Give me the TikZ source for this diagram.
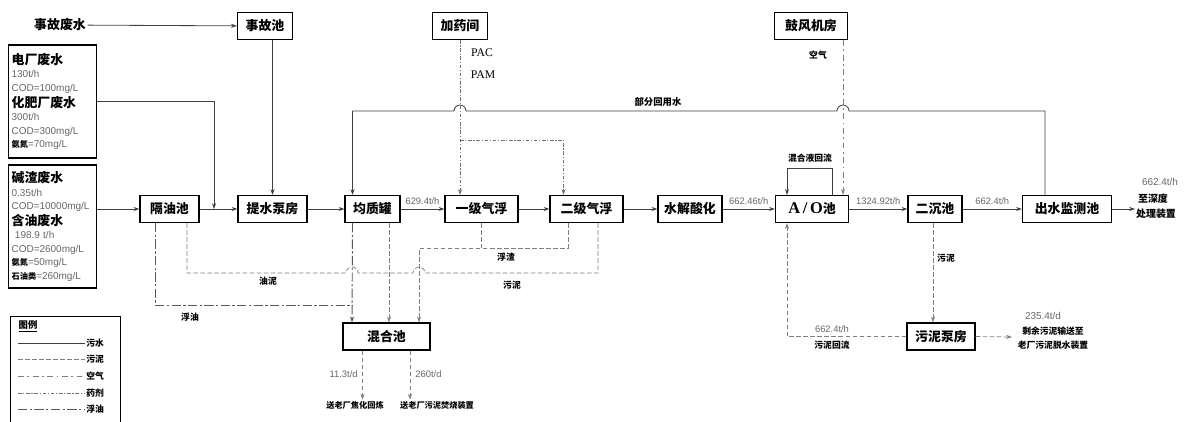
\documentclass[tikz,border=0pt]{standalone}
\usepackage{fontspec}
\setmainfont{Liberation Sans}
\newfontfamily\cjk{Noto Sans CJK SC}
\newfontfamily\serf{Liberation Serif}
\usetikzlibrary{arrows.meta,calc}
\newcommand\srcttl[1]{{\color{black}\cjk\bfseries\fontsize{11}{13}\selectfont #1}}
\newcommand\srcsub[1]{{\color{black}\cjk\bfseries\fontsize{7}{8}\selectfont #1}}

\begin{document}
\begin{tikzpicture}[x=0.03cm,y=-0.03cm,
  >={Stealth[length=5pt,width=3.5pt]},
  box/.style={draw,line width=1pt,fill=white,minimum height=0.81cm,inner sep=1pt,
    font=\cjk\bfseries\fontsize{11}{13}\selectfont},
  srcbox/.style={draw,line width=1pt,text width=2.45cm,inner sep=3pt,align=left,
    text=black!60,font=\fontsize{8.5}{11.5}\selectfont},
  tag/.style={font=\cjk\bfseries\fontsize{7.5}{9}\selectfont,inner sep=1pt},
  num/.style={font=\fontsize{8}{9}\selectfont,text=black!60,inner sep=1pt},
  water/.style={draw=black!75,line width=0.7pt},
  sludge/.style={draw=black!50,line width=0.6pt,dash pattern=on 4pt off 2pt},
  air/.style={draw=black!50,line width=0.6pt,dash pattern=on 5pt off 3pt on 1.5pt off 3pt},
  chem/.style={draw=black!55,line width=0.6pt,dash pattern=on 3pt off 1.5pt on 1pt off 1.5pt},
  oil/.style={draw=black!65,line width=0.8pt,dash pattern=on 8pt off 2pt on 2pt off 2pt}]
\useasboundingbox (0,0) rectangle (1188,421);

% sources
\node[box,draw=none,fill=none] (sgfs) at (60,25) {事故废水};
\node[box,minimum width=1.65cm] (sgc) at (265,26) {事故池};
\node[srcbox,minimum height=3.39cm] (src1) at (52.5,101.5) {%
  \srcttl{电厂废水}\\
  130t/h\\
  COD=100mg/L\\[2pt]
  \srcttl{化肥厂废水}\\
  300t/h\\
  COD=300mg/L\\
  \srcsub{氨氮}=70mg/L};
\node[srcbox,minimum height=3.69cm] (src2) at (52.5,226.5) {%
  \srcttl{碱渣废水}\\
  0.35t/h\\
  COD=10000mg/L\\[2pt]
  \srcttl{含油废水}\\
  \ 198.9 t/h\\
  COD=2600mg/L\\
  \srcsub{氨氮}=50mg/L\\
  \srcsub{石油类}=260mg/L};

% main line
\node[box,minimum width=1.77cm] (glc) at (169.5,209) {隔油池};
\node[box,minimum width=2.07cm] (tsbf) at (272.5,209) {提水泵房};
\node[box,minimum width=1.65cm] (jzg) at (372.5,209) {均质罐};
\node[box,minimum width=2.19cm] (yjqf) at (481.5,209) {一级气浮};
\node[box,minimum width=2.19cm] (ejqf) at (586.5,209) {二级气浮};
\node[box,minimum width=1.92cm] (sjsh) at (690,209) {水解酸化};
\node[box,minimum width=2.19cm] (ao) at (812,209) {{\serf\fontsize{14}{14}\selectfont A\,/\,O}池};
\node[box,minimum width=1.62cm] (ecc) at (935,209) {二沉池};
\node[box,minimum width=2.67cm] (csjc) at (1067,209) {出水监测池};

% upper stations
\node[box,minimum width=1.65cm] (jyj) at (460,26) {加药间};
\node[box,minimum width=2.19cm] (gfjf) at (811,26) {鼓风机房};

% lower stations
\node[box,minimum width=2.61cm] (hhc) at (386.5,336.5) {混合池};
\node[box,minimum width=2.04cm] (wnbf) at (941,336.5) {污泥泵房};

% ends
\coordinate (j1) at (214,209);
\coordinate (fin) at (1135,209);
\coordinate (ex) at (1012,337);

% water
\draw[water,->] (sgfs) -- (sgc);
\draw[water,->] (sgc.south -| tsbf) -- (tsbf);
\draw[water,->] (src1.east) -| (j1);
\draw[water,->] (src2.east |- glc) -- (glc);
\draw[water,->] (glc) -- (tsbf);
\draw[water,->] (tsbf) -- (jzg);
\draw[water,->] (jzg) -- (yjqf) node[num,midway,above=2pt] {629.4t/h};
\draw[water,->] (yjqf) -- (ejqf);
\draw[water,->] (ejqf) -- (sjsh);
\draw[water,->] (sjsh) -- (ao) node[num,midway,above=2pt] {662.46t/h};
\draw[water,->] (ao) -- (ecc) node[num,midway,above=2pt] {1324.92t/h};
\draw[water,->] (ecc) -- (csjc) node[num,midway,above=2pt] {662.4t/h};
\draw[water,->] (csjc) -- (fin);
\draw[water,->] ($(csjc.north)+(-22,0)$) |- (849,111) arc (0:-180:6)
  -- (466,111) arc (0:-180:6) -| ($(jzg.north)+(-20,0)$);
\node[tag,font=\cjk\bfseries\fontsize{8}{9}\selectfont] (hyl) at (658,102) {部分回用水};
\draw[water,->] ($(ao.north)+(20,0)$) -- ++(0,-27) -| ($(ao.north)+(-25,0)$);
\node[tag] (hlh) at (810,158) {混合液回流};

% chemicals and air
\coordinate (c1) at ($(ejqf.north)+(-23,0)$);
\draw[chem,->] (jyj.south) -- (jyj.south |- yjqf.north);
\draw[chem,->] (jyj.south |- 0,140) -| (c1);
\node[font=\serf\fontsize{10}{11}\selectfont] (pac) at (482,53) {PAC};
\node[font=\serf\fontsize{10}{11}\selectfont] (pam) at (483,75) {PAM};
\draw[air,->] ($(gfjf.south)+(32,0)$) -- ($(ao.north)+(31,0)$);
\node[tag] (kq) at (818,55) {空气};

% sludge and oil to mixing tank
\draw[oil] ($(glc.south)+(-14.5,0)$) |- (352,305);
\draw[oil,->] ($(jzg.south)+(-20,0)$) -- ($(hhc.north)+(-34.5,0)$);
\node[tag] (fy) at (190,317) {浮油};
\draw[sludge] ($(glc.south)+(17.5,0)$) |- (346,273) arc (180:360:6) -- (389,273);
\node[tag] (yn) at (268,281) {油泥};
\draw[sludge] ($(ejqf.south)+(11.5,0)$) |- (425,273) arc (0:-180:6) -- (389,273);
\draw[sludge,->] ($(jzg.south)+(16.5,0)$) -- ($(hhc.north)+(2.5,0)$);
\draw[sludge] (yjqf.south) -- (yjqf.south |- 0,248);
\draw[sludge,->] ($(ejqf.south)+(-18.5,0)$) |- (419,248) -- ($(hhc.north)+(32.5,0)$);
\node[tag] (fz) at (506,257) {浮渣};
\node[tag] (wn1) at (512,285) {污泥};

% mixing tank outputs
\node[tag,font=\cjk\bfseries\fontsize{7}{8}\selectfont] (out1) at (355,405) {送老厂焦化回炼};
\node[tag,font=\cjk\bfseries\fontsize{7}{8}\selectfont] (out2) at (437,405) {送老厂污泥焚烧装置};
\coordinate (h1) at ($(hhc.south)+(-24,0)$);
\coordinate (h2) at ($(hhc.south)+(23.5,0)$);
\draw[sludge,->] (h1) -- (h1 |- out1.north);
\draw[sludge,->] (h2) -- (h2 |- out2.north);
\node[num,anchor=east] (q1) at (359,374) {11.3t/d};
\node[num,anchor=west] (q2) at (414,374) {260t/d};

% secondary sludge
\coordinate (e1) at ($(ecc.south)+(-2,0)$);
\coordinate (a1) at ($(ao.south)+(-25,0)$);
\draw[sludge,->] (e1) -- (e1 |- wnbf.north);
\node[tag] (wn2) at (946,258) {污泥};
\draw[sludge,->] (wnbf.west) -| (a1);
\node[num] (q3) at (832,329) {662.4t/h};
\node[tag] (wnhl) at (832,345) {污泥回流};
\draw[sludge,->] (wnbf.east) -- (ex);
\node[num,font=\fontsize{8.5}{9}\selectfont] (q4) at (1043,316) {235.4t/d};
\node[tag] (sy1) at (1053,331) {剩余污泥输送至};
\node[tag] (sy2) at (1053,345) {老厂污泥脱水装置};

% outlet
\node[num,font=\fontsize{8.5}{9}\selectfont] (q5) at (1160,182) {662.4t/h};
\node[tag,font=\cjk\bfseries\fontsize{8.5}{10}\selectfont] (sd1) at (1153,199) {至深度};
\node[tag,font=\cjk\bfseries\fontsize{8.5}{10}\selectfont] (sd2) at (1156,214) {处理装置};

% legend
\draw[line width=0.8pt] (10,316) rectangle (120,426);
\node[tag,font=\cjk\bfseries\fontsize{8}{9}\selectfont] (lgt) at (28,326) {\underline{图例}};
\foreach \s/\t/\y in {water/污水/343,sludge/污泥/359,air/空气/376,chem/药剂/393,oil/浮油/409}{
  \draw[\s] (18,\y) -- (85,\y);
  \node[tag,anchor=west] (lg-\s) at (85,\y) {\t};
}
\end{tikzpicture}
\end{document}
